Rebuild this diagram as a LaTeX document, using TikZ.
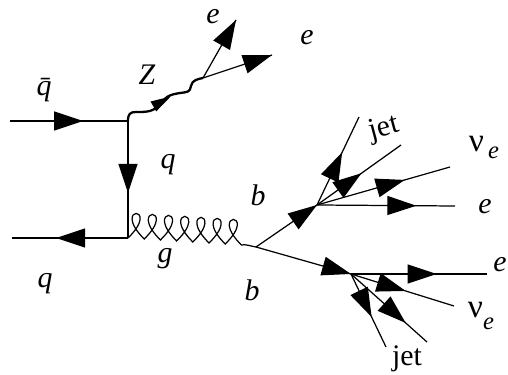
\documentclass[tikz,border=0pt]{standalone}
\usepackage{fontspec}
\setmainfont{Liberation Serif}
\usetikzlibrary{arrows.meta, decorations.markings}
\begin{document}
\begin{tikzpicture}[
      x=0.02cm, y=-0.02cm,
      line width=0.7pt,
      fermion/.style={postaction={decorate}, decoration={markings, mark=at position #1 with {\arrow{Triangle[length=0.58cm, width=0.38cm]}}}},
      zarrow/.style={postaction={decorate}, decoration={markings, mark=at position #1 with {\arrow{Triangle[length=0.4cm, width=0.22cm]}}}},
      boson/.style={line width=1.3pt, line join=round},
      lab/.style={font=\fontsize{17}{19}\selectfont\itshape, inner sep=0pt},
      txt/.style={font=\fontsize{17}{19}\selectfont, inner sep=0pt},
    ]
    \useasboundingbox (0,0) rectangle (508,375);
    % vertices
    \coordinate (inq) at (10,121);
    \coordinate (inqb) at (12,238);
    \coordinate (vtop) at (128,121);
    \coordinate (vlow) at (128,238);
    \coordinate (vz) at (203,78);
    \coordinate (vg) at (256,247);
    \coordinate (vb) at (317,205);
    \coordinate (vbb) at (351,274);
    % ends
    \coordinate (ze) at (236,20);
    \coordinate (zf) at (272,55);
    \coordinate (ja) at (359,117);
    \coordinate (jb) at (401,145);
    \coordinate (nua) at (450,167);
    \coordinate (ea) at (455,206);
    \coordinate (eb) at (487,274);
    \coordinate (nub) at (454,306);
    \coordinate (jc) at (427,342);
    \coordinate (jd) at (386,347);
    % quark lines
    \draw[fermion=0.62] (inq) -- (vtop);
    \draw[fermion=0.615] (vtop) -- (vlow);
    \draw[fermion=0.62] (vlow) -- (inqb);
    % Z and gluon
    \draw[boson] (vtop) .. controls +(0,-7) and +(-6,0) .. (136,112)
      .. controls +(6,0) and +(-5,1) .. (150,111)
      .. controls +(6,-1) and +(-6,5) .. (167,97)
      .. controls +(5,-3) and +(-5,1) .. (180,93)
      .. controls +(8,-1) and +(-1,6) .. (191,86)
      .. controls +(1,-6) and +(-5,1) .. (vz);
    \path[zarrow=0.57] (vtop) -- (vz);
    \draw (vlow) foreach \i in {0,...,6} { .. controls +(34,-33) and +(-34,-34) .. ++(16.2,1) }
      .. controls +(4,-1) and +(-6,-1) .. (vg);
    % Z decay
    \draw[fermion=1] (vz) -- (ze);
    \draw[fermion=1] (vz) -- (zf);
    % b quarks
    \draw[fermion=1] (vg) -- (vb);
    \draw[fermion=1] (vg) -- (vbb);
    % upper b decay
    \draw[fermion=0.60] (vb) -- (ja);
    \draw[fermion=0.53] (vb) -- (jb);
    \draw[fermion=0.66] (vb) -- (nua);
    \draw[fermion=0.72] (vb) -- (ea);
    % lower b decay
    \draw[fermion=0.63] (vbb) -- (eb);
    \draw[fermion=0.53] (vbb) -- (nub);
    \draw[fermion=0.72] (vbb) -- (jc);
    \draw[fermion=0.59] (vbb) -- (jd);
    % labels
    \node[lab] (lqbar) at (44,90) {\={q}};
    \node[lab] (lz) at (147,75) {Z};
    \node[lab] (lea) at (213,17) {e};
    \node[lab] (leb) at (307,38) {e};
    \node[lab] (lqa) at (168,165) {q};
    \node[lab] (lqb) at (45,284) {q};
    \node[lab] (lg) at (165,259) {g};
    \node[lab] (lba) at (258,195) {b};
    \node[lab] (lbb) at (252,290) {b};
    \node[txt, rotate=15] (ljeta) at (384,129) {jet};
    \node[txt] (lnua) at (484,147) {\fontsize{19}{20}\selectfont ν\raisebox{-4pt}{\fontsize{14}{15}\selectfont\itshape\,e}};
    \node[lab] (lec) at (485,207) {e};
    \node[lab] (led) at (500,265) {e};
    \node[txt] (lnub) at (481,316) {\fontsize{19}{20}\selectfont ν\raisebox{-7pt}{\fontsize{14}{15}\selectfont\itshape e}};
    \node[txt] (ljetb) at (407,359) {jet};
\end{tikzpicture}
\end{document}
